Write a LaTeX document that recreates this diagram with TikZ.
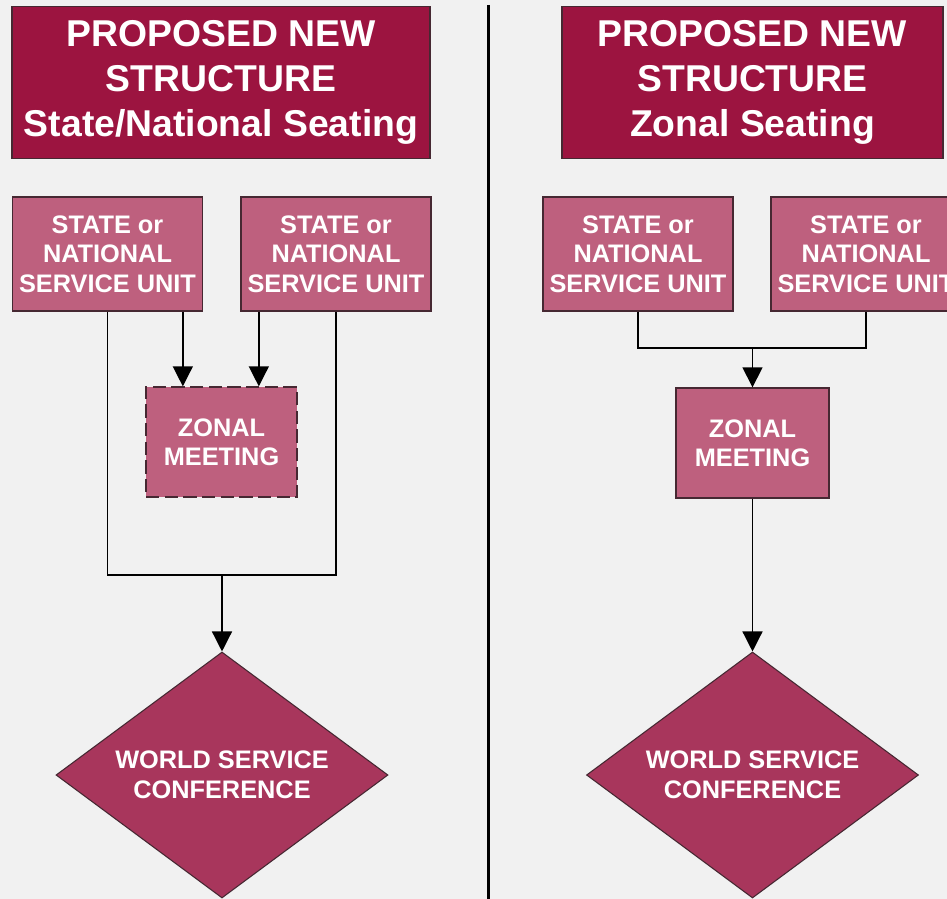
\documentclass[tikz,border=0pt]{standalone}
\usepackage{fontspec}
\setmainfont{Liberation Sans}
\usetikzlibrary{shapes.geometric,arrows.meta}
\definecolor{titlered}{RGB}{156,20,64}
\definecolor{unitpink}{RGB}{190,96,126}
\definecolor{wscred}{RGB}{168,54,92}
\definecolor{edgedark}{RGB}{70,40,50}
\definecolor{bggray}{RGB}{241,241,241}
\begin{document}
\begin{tikzpicture}[x=0.75pt, y=-0.75pt,
	titlebox/.style={draw=edgedark, line width=1pt, fill=titlered, text=white, align=center, minimum height=114pt, inner sep=0pt, font=\fontsize{28}{33.75}\selectfont\bfseries},
	unitbox/.style={draw=edgedark, line width=1pt, fill=unitpink, text=white, align=center, minimum width=142.5pt, minimum height=85.5pt, inner sep=0pt, font=\fontsize{19}{22}\selectfont\bfseries},
	zonebox/.style={unitbox, minimum width=113.25pt, minimum height=82.5pt},
	wsc/.style={diamond, draw=edgedark, line width=0.8pt, fill=wscred, text=white, align=center, minimum width=249pt, minimum height=184.5pt, aspect=1.34, inner sep=0pt, font=\fontsize{19}{22.5}\selectfont\bfseries},
	link/.style={line width=1pt},
	arr/.style={link, -{Triangle[width=15pt,length=15pt]}}]
	\fill[bggray] (0,0) rectangle (947,899);
	\useasboundingbox (0,0) rectangle (947,899);
	\draw[line width=2.25pt] (488,5) -- (488,899);
	% state/national seating
	\node[titlebox, minimum width=313.5pt] (titleA) at (221,82.5) {PROPOSED NEW\\STRUCTURE\\State/National Seating};
	\node[unitbox] (unitA) at (107.5,254) {STATE or\\NATIONAL\\SERVICE UNIT};
	\node[unitbox] (unitB) at (336,254) {STATE or\\NATIONAL\\SERVICE UNIT};
	\node[zonebox, dash pattern=on 10pt off 4pt] (zoneA) at (221.5,442) {ZONAL\\MEETING};
	\node[wsc] (wscA) at (222,775) {WORLD SERVICE\\CONFERENCE};
	\coordinate (joinA) at (222,575);
	\draw[arr] ([xshift=-29pt]zoneA.north |- unitA.south) -- ([xshift=-29pt]zoneA.north);
	\draw[arr] ([xshift=28pt]zoneA.north |- unitB.south) -- ([xshift=28pt]zoneA.north);
	\draw[link] (unitA.south) |- (joinA) -| (unitB.south);
	\draw[arr] (joinA) -- (wscA.north);
	% zonal seating
	\node[titlebox, minimum width=285.75pt] (titleB) at (752.5,82.5) {PROPOSED NEW\\STRUCTURE\\Zonal Seating};
	\node[unitbox] (unitC) at (638,254) {STATE or\\NATIONAL\\SERVICE UNIT};
	\node[unitbox] (unitD) at (866,254) {STATE or\\NATIONAL\\SERVICE UNIT};
	\node[zonebox, minimum width=114.75pt] (zoneB) at (752.5,443) {ZONAL\\MEETING};
	\node[wsc] (wscB) at (752.5,775) {WORLD SERVICE\\CONFERENCE};
	\coordinate (joinB) at (752.5,348);
	\draw[link] (unitC.south) |- (joinB) -| (unitD.south);
	\draw[arr] (joinB) -- (zoneB.north);
	\draw[arr] (zoneB.south) -- (wscB.north);
\end{tikzpicture}
\end{document}
